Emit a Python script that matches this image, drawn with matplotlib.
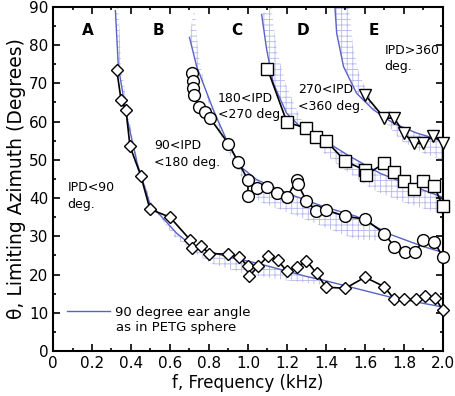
import numpy as np
import matplotlib
matplotlib.use('Agg')
import matplotlib.pyplot as plt
from matplotlib.ticker import MultipleLocator, FuncFormatter

# measured limiting azimuth (kHz, degrees)
f_a = [0.327, 0.349, 0.374, 0.395, 0.45, 0.497, 0.60, 0.703, 0.711, 0.76, 0.80, 0.90, 0.955,
       1.00, 1.005, 1.053, 1.104, 1.152, 1.20, 1.253, 1.30, 1.352, 1.40, 1.50, 1.60, 1.70,
       1.75, 1.80, 1.86, 1.91, 1.96, 2.0]
th_a = [73.5, 65.7, 63.1, 53.5, 45.9, 37.1, 35.0, 29.1, 27.0, 27.5, 25.5, 25.3, 24.5,
        22.2, 19.5, 22.2, 24.9, 23.8, 20.8, 21.9, 23.6, 20.3, 16.7, 16.4, 19.3, 16.8,
        13.5, 13.5, 13.5, 14.4, 13.8, 10.7]

f_b = [0.711, 0.716, 0.72, 0.725, 0.749, 0.78, 0.805, 0.90, 0.95, 1.0, 1.0, 1.048, 1.10,
       1.15, 1.20, 1.25, 1.255, 1.30, 1.35, 1.40, 1.50, 1.60, 1.70, 1.75, 1.805, 1.855,
       1.90, 1.955, 2.0]
th_b = [72.7, 70.5, 68.8, 67.0, 63.8, 62.6, 60.9, 54.2, 49.4, 44.8, 40.6, 42.6, 43.0,
        41.4, 40.2, 44.8, 43.7, 39.3, 36.7, 36.9, 35.2, 34.5, 30.7, 27.3, 26.0, 25.8,
        29.0, 28.6, 24.5]

f_c = [1.10, 1.20, 1.30, 1.35, 1.40, 1.50, 1.60, 1.605, 1.70, 1.75, 1.80, 1.85, 1.90, 1.955, 2.0]
th_c = [73.8, 59.8, 58.3, 56.0, 55.0, 49.6, 47.3, 46.0, 49.2, 46.8, 44.5, 42.3, 44.5, 43.1, 37.8]

f_d = [1.60, 1.70, 1.75, 1.80, 1.85, 1.90, 1.95, 2.0]
th_d = [67.0, 60.9, 60.9, 57.0, 54.3, 54.3, 56.3, 54.3]

# 90 degree ear angle curves (PETG sphere)
fa_90 = [0.320, 0.335, 0.378, 0.432, 0.497, 0.634, 0.72, 0.89, 1.045, 1.30, 1.38, 1.73, 2.0]
ta_90 = [89, 74.4, 61.3, 49.1, 38.5, 30.8, 27.3, 24.7, 23.0, 19.5, 18.6, 14.1, 11.5]
fb_90 = [0.70, 0.737, 0.822, 0.89, 0.96, 1.045, 1.215, 1.386, 1.557, 1.73, 1.90, 2.0]
tb_90 = [82, 74.4, 63.1, 55.2, 48.3, 44.8, 41.0, 37.8, 35.2, 30.5, 27.3, 25.8]
fc_90 = [1.07, 1.096, 1.13, 1.198, 1.267, 1.386, 1.523, 1.677, 1.85, 2.0]
tc_90 = [88, 78.8, 70, 62.2, 58.7, 55.2, 50.9, 46.5, 43, 40.2]
fd_90 = [1.446, 1.455, 1.49, 1.557, 1.643, 1.745, 1.865, 2.0]
td_90 = [90, 83.1, 74.4, 67.4, 63.1, 59.6, 57, 55.0]

# far edge of the hatched bands
fa_e = [0.335, 0.35, 0.385, 0.44, 0.52, 0.62, 0.72, 0.805, 0.976, 1.18, 1.40]
ta_e = [90, 75, 62, 48, 37, 30, 26, 23, 20.3, 18.6, 17.2]
fb_e = [0.725, 0.745, 0.79, 0.87, 0.96, 1.06, 1.215, 1.386, 1.557, 1.72]
tb_e = [90, 78, 66, 55, 46, 39, 36.0, 32.5, 29.1, 28.8]
fc_e = [1.12, 1.15, 1.20, 1.26, 1.31, 1.386, 1.47, 1.643, 1.81, 2.0]
tc_e = [90, 78, 69, 62, 57, 52, 48.3, 42.1, 38.6, 35.8]
fd_e = [1.52, 1.54, 1.574, 1.63, 1.68, 1.78, 1.90, 2.0]
td_e = [90, 78.8, 71.9, 66, 61.5, 55.2, 51.7, 49.8]

blue = '#5a62c4'
hatch_col = '#b4b8ec'
plt.rcParams['hatch.color'] = hatch_col
plt.rcParams['hatch.linewidth'] = 0.6

fig = plt.figure(figsize=(4.55, 3.96), dpi=100)
ax = fig.add_axes([0.1165, 0.1136, 0.857, 0.869])

bands = [(fa_90[:11], ta_90[:11], fa_e, ta_e),
         (fb_90[:10], tb_90[:10], fb_e, tb_e),
         (fc_90, tc_90, fc_e, tc_e),
         (fd_90, td_90, fd_e, td_e)]
for fx, ty, fe, te in bands:
    xs = list(fx) + list(fe)[::-1]
    ys = list(ty) + list(te)[::-1]
    ax.fill(xs, ys, facecolor='none', edgecolor=hatch_col, hatch='+++', linewidth=0, zorder=1)

for fx, ty in [(fa_90, ta_90), (fb_90, tb_90), (fc_90, tc_90), (fd_90, td_90)]:
    ax.plot(fx, ty, color=blue, lw=1.0, zorder=2)

kw = dict(color='black', lw=1.2, mfc='white', mec='black', mew=1.0, zorder=3, clip_on=False)
ax.plot(f_a, th_a, marker='D', ms=6.5, **kw)
ax.plot(f_b, th_b, marker='o', ms=8.5, **kw)
ax.plot(f_c, th_c, marker='s', ms=8.3, **kw)
ax.plot(f_d, th_d, marker='v', ms=9, **kw)

# region letters and IPD ranges
for x, lab in zip([0.18, 0.54, 0.945, 1.28, 1.645], ['A', 'B', 'C', 'D', 'E']):
    ax.text(x, 83.8, lab, fontsize=11, fontweight='bold', ha='center', va='center')
ax.text(0.075, 40.5, 'IPD<90\ndeg.', fontsize=9, ha='left', va='center', linespacing=1.35)
ax.text(0.52, 51.5, '90<IPD\n<180 deg.', fontsize=9, ha='left', va='center', linespacing=1.35)
ax.text(0.845, 64.0, '180<IPD\n<270 deg.', fontsize=9, ha='left', va='center', linespacing=1.35)
ax.text(1.255, 66.2, '270<IPD\n<360 deg.', fontsize=9, ha='left', va='center', linespacing=1.35)
ax.text(1.70, 76.5, 'IPD>360\ndeg.', fontsize=9, ha='left', va='center', linespacing=1.35)

leg = ax.legend([ax.lines[0]], ['90 degree ear angle'], loc='center left',
                bbox_to_anchor=(0.035, 0.113), frameon=False, fontsize=9.5,
                handlelength=3.3, handletextpad=0.4, borderpad=0, borderaxespad=0)
ax.text(0.315, 0.067, 'as in PETG sphere', transform=ax.transAxes, fontsize=9.5,
        ha='center', va='center')

ax.set_xlim(0, 2.0)
ax.set_ylim(0, 90)
ax.xaxis.set_major_locator(MultipleLocator(0.2))
ax.xaxis.set_minor_locator(MultipleLocator(0.1))
ax.yaxis.set_major_locator(MultipleLocator(10))
ax.yaxis.set_minor_locator(MultipleLocator(5))
ax.xaxis.set_major_formatter(FuncFormatter(lambda v, p: '0' if abs(v) < 1e-9 else '%.1f' % v))
ax.tick_params(which='both', direction='in', top=True, right=True, width=1.2)
ax.tick_params(which='major', length=5, labelsize=11)
ax.tick_params(which='minor', length=2.5)
for s in ax.spines.values():
    s.set_linewidth(1.5)

ax.set_xlabel('f, Frequency (kHz)', fontsize=12, labelpad=2)
ax.set_ylabel('θ, Limiting Azimuth (Degrees)', fontsize=13.5, labelpad=2)

fig.savefig('out.png', dpi=100)
